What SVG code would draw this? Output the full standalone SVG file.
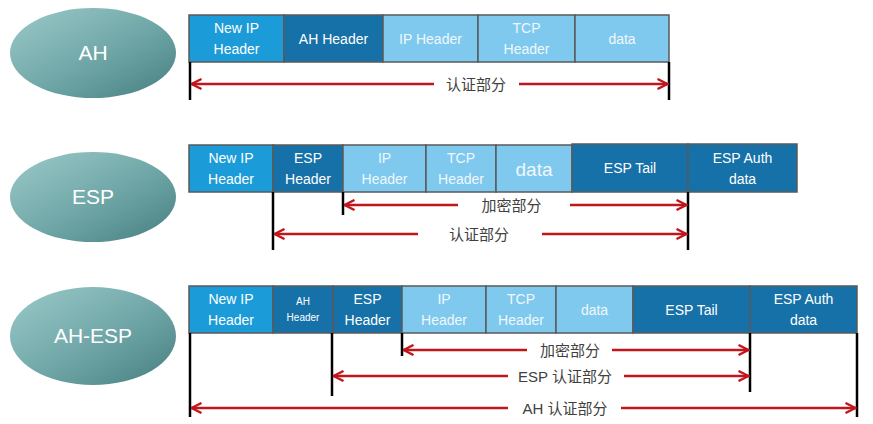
<svg xmlns="http://www.w3.org/2000/svg" width="873" height="424" viewBox="0 0 873 424">
<defs>
<linearGradient id="eg" x1="0" y1="0" x2="1" y2="1">
<stop offset="0" stop-color="#9ccaca"/>
<stop offset="0.5" stop-color="#73a9aa"/>
<stop offset="1" stop-color="#467f81"/>
</linearGradient>
<marker id="ah" viewBox="0 0 12 12" refX="11" refY="6" markerWidth="12" markerHeight="12" markerUnits="userSpaceOnUse" orient="auto">
<path d="M1,1 L11,6 L1,11" fill="none" stroke="#c0161c" stroke-width="2.4"/>
</marker>
<style>
.el{fill:url(#eg);}
.et{font-family:"Liberation Sans",Arial,sans-serif;font-size:21px;fill:#ffffff;text-anchor:middle;}
.m{fill:#1b9bd7;stroke:#5a5a5a;stroke-width:1.5;}
.d{fill:#1671a9;stroke:#5a5a5a;stroke-width:1.5;}
.l{fill:#80c9ee;stroke:#5a5a5a;stroke-width:1.5;}
.bt{font-family:"Liberation Sans",Arial,sans-serif;font-size:14px;fill:#ffffff;text-anchor:middle;}
.lt{fill:#eef8fd;}
.sm{font-size:10px;}
.big{font-size:19px;}
.v{stroke:#000;stroke-width:2.5;}
.ar{stroke:#c0161c;stroke-width:2.4;fill:none;marker-end:url(#ah);}
.lb{font-family:"Liberation Sans","Noto Sans CJK SC",sans-serif;font-size:15px;fill:#404040;text-anchor:middle;}
</style>
</defs>

<g id="ellipse-ah"><ellipse class="el" cx="93" cy="53" rx="83" ry="45"/><text class="et" x="93" y="60">AH</text></g>
<g id="ellipse-esp"><ellipse class="el" cx="93" cy="197" rx="83" ry="45"/><text class="et" x="93" y="204">ESP</text></g>
<g id="ellipse-ahesp"><ellipse class="el" cx="93" cy="336" rx="83" ry="49"/><text class="et" x="93" y="343">AH-ESP</text></g>

<g id="row-ah">
<g id="r1-newip"><rect class="m" x="189" y="15" width="95" height="47"/><text class="bt" x="236.5" y="33">New IP</text><text class="bt" x="236.5" y="54">Header</text></g>
<g id="r1-ah"><rect class="d" x="284" y="15" width="99" height="47"/><text class="bt" x="333.5" y="43.5">AH Header</text></g>
<g id="r1-ip"><rect class="l" x="383" y="15" width="95" height="47"/><text class="bt lt" x="430.5" y="43.5">IP Header</text></g>
<g id="r1-tcp"><rect class="l" x="478" y="15" width="97" height="47"/><text class="bt lt" x="526.5" y="33">TCP</text><text class="bt lt" x="526.5" y="54">Header</text></g>
<g id="r1-data"><rect class="l" x="575" y="15" width="94" height="47"/><text class="bt lt" x="622" y="43.5">data</text></g>
</g>

<g id="row-esp">
<g id="r2-newip"><rect class="m" x="189" y="145" width="84" height="47"/><text class="bt" x="231" y="163">New IP</text><text class="bt" x="231" y="184">Header</text></g>
<g id="r2-esph"><rect class="d" x="273" y="145" width="70" height="47"/><text class="bt" x="308" y="163">ESP</text><text class="bt" x="308" y="184">Header</text></g>
<g id="r2-ip"><rect class="l" x="343" y="145" width="83" height="47"/><text class="bt lt" x="384.5" y="163">IP</text><text class="bt lt" x="384.5" y="184">Header</text></g>
<g id="r2-tcp"><rect class="l" x="426" y="145" width="70" height="47"/><text class="bt lt" x="461" y="163">TCP</text><text class="bt lt" x="461" y="184">Header</text></g>
<g id="r2-data"><rect class="l" x="496" y="145" width="76" height="47"/><text class="bt lt big" x="534" y="175.5">data</text></g>
<g id="r2-tail"><rect class="d" x="572" y="144" width="116" height="48"/><text class="bt" x="630" y="173">ESP Tail</text></g>
<g id="r2-auth"><rect class="d" x="688" y="144" width="109" height="48"/><text class="bt" x="742.5" y="163">ESP Auth</text><text class="bt" x="742.5" y="184">data</text></g>
</g>

<g id="row-ahesp">
<g id="r3-newip"><rect class="m" x="189" y="286" width="84" height="47"/><text class="bt" x="231" y="304">New IP</text><text class="bt" x="231" y="325">Header</text></g>
<g id="r3-ahh"><rect class="d" x="273" y="286" width="60" height="47"/><text class="bt sm" x="303" y="305">AH</text><text class="bt sm" x="303" y="320.5">Header</text></g>
<g id="r3-esph"><rect class="d" x="333" y="286" width="69" height="47"/><text class="bt" x="367.5" y="304">ESP</text><text class="bt" x="367.5" y="325">Header</text></g>
<g id="r3-ip"><rect class="l" x="402" y="286" width="84" height="47"/><text class="bt lt" x="444" y="304">IP</text><text class="bt lt" x="444" y="325">Header</text></g>
<g id="r3-tcp"><rect class="l" x="486" y="286" width="70" height="47"/><text class="bt lt" x="521" y="304">TCP</text><text class="bt lt" x="521" y="325">Header</text></g>
<g id="r3-data"><rect class="l" x="556" y="286" width="77" height="47"/><text class="bt lt" x="594.5" y="314.5">data</text></g>
<g id="r3-tail"><rect class="d" x="633" y="286" width="117" height="47"/><text class="bt" x="691.5" y="314.5">ESP Tail</text></g>
<g id="r3-auth"><rect class="d" x="750" y="286" width="107" height="47"/><text class="bt" x="803.5" y="304">ESP Auth</text><text class="bt" x="803.5" y="325">data</text></g>
</g>

<g id="connectors">
<line class="v" x1="190" y1="62" x2="190" y2="100"/>
<line class="v" x1="669" y1="62" x2="669" y2="100"/>
<path class="ar" d="M434,84 L191.5,84"/>
<path class="ar" d="M519,84 L667.5,84"/>
<text class="lb" x="476" y="89.5">认证部分</text>

<line class="v" x1="273" y1="192" x2="273" y2="250"/>
<line class="v" x1="343" y1="192" x2="343" y2="215"/>
<line class="v" x1="688" y1="192" x2="688" y2="250"/>
<path class="ar" d="M458,205 L344.5,205"/>
<path class="ar" d="M570,205 L686.5,205"/>
<text class="lb" x="511.5" y="210.5">加密部分</text>
<path class="ar" d="M418,234 L274.5,234"/>
<path class="ar" d="M542,234 L686.5,234"/>
<text class="lb" x="479" y="239.5">认证部分</text>

<line class="v" x1="190" y1="333" x2="190" y2="417"/>
<line class="v" x1="332" y1="333" x2="332" y2="396"/>
<line class="v" x1="402" y1="333" x2="402" y2="356"/>
<line class="v" x1="750" y1="333" x2="750" y2="392"/>
<line class="v" x1="857" y1="333" x2="857" y2="417"/>
<path class="ar" d="M527,350 L403.5,350"/>
<path class="ar" d="M612,350 L748.5,350"/>
<text class="lb" x="570" y="355.5">加密部分</text>
<path class="ar" d="M508,376 L333.5,376"/>
<path class="ar" d="M624,376 L748.5,376"/>
<text class="lb" x="565" y="381.5">ESP 认证部分</text>
<path class="ar" d="M508,408 L191.5,408"/>
<path class="ar" d="M621,408 L855.5,408"/>
<text class="lb" x="565" y="413.5">AH 认证部分</text>
</g>
</svg>
